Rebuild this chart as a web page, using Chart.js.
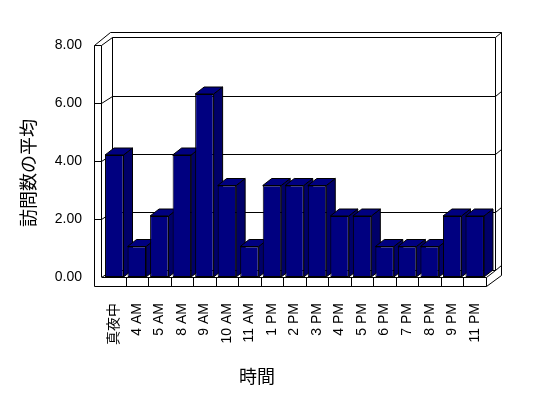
<!DOCTYPE html>
<html>
<head>
<meta charset="utf-8">
<style>
  html, body { margin: 0; padding: 0; background: #ffffff; }
  #wrap { width: 548px; height: 398px; }
</style>
<script src="https://cdn.jsdelivr.net/npm/chart.js@4/dist/chart.umd.min.js"></script>
</head>
<body>
<div id="wrap"><canvas id="c" width="548" height="398"></canvas></div>
<script>
const categories = ['真夜中', '4 AM', '5 AM', '8 AM', '9 AM', '10 AM', '11 AM', '1 PM', '2 PM', '3 PM', '4 PM', '5 PM', '6 PM', '7 PM', '8 PM', '9 PM', '11 PM'];
const averageVisits = [4, 1, 2, 4, 6, 3, 1, 3, 3, 3, 2, 2, 1, 1, 1, 2, 2];
const yTicks = [0, 2, 4, 6, 8];
const xTitle = '時間';
const yTitle = '訪問数の平均';

const FONT = "'Liberation Sans', 'Noto Sans CJK JP', sans-serif";
const CJK = "'Noto Sans CJK JP', sans-serif";
const DX = 9, DY = -7;

function line(ctx, x1, y1, x2, y2) {
  ctx.beginPath();
  ctx.moveTo(Math.round(x1) + 0.5, Math.round(y1) + 0.5);
  ctx.lineTo(Math.round(x2) + 0.5, Math.round(y2) + 0.5);
  ctx.stroke();
}

const frame3d = {
  id: 'frame3d',
  beforeDatasetsDraw(chart) {
    const ctx = chart.ctx;
    const ca = chart.chartArea;
    const yA = chart.scales.y2;
    const xS = chart.scales.x;
    const yF = v => yA.getPixelForValue(v);
    const L = ca.left, R = ca.right, B = ca.bottom;
    const xo = L - 9, xi = L - 2, xb = L + 9;
    const top = yF(yTicks[yTicks.length - 1]);
    const backIn = top - 8, backOut = top - 13;
    const xr = R + 9, xro = R + 15;
    const floorBot = B + 9;
    ctx.save();
    ctx.strokeStyle = '#000000';
    ctx.lineWidth = 1;
    // left wall
    line(ctx, xo, top, xo, floorBot);
    line(ctx, xi, top, xi, B);
    line(ctx, xo, top, xi, top);
    line(ctx, xo, top, xo + 16, backOut);
    line(ctx, xi, top, xb, backIn);
    // back wall
    line(ctx, xo + 16, backOut, xro, backOut);
    line(ctx, xb, backIn, xr, backIn);
    line(ctx, xb, backIn, xb, B - 7);
    line(ctx, xr, backIn, xr, B - 7);
    line(ctx, xro, backOut, xro, B - 2);
    line(ctx, xr, backIn, xro, backOut);
    // gridlines
    yTicks.slice(0, -1).forEach(v => {
      const y = yF(v);
      line(ctx, xo, y, xi, y);
      line(ctx, xi, y, xb, y - 7);
      line(ctx, xb, y - 7, xr, y - 7);
      line(ctx, xr, y - 7, xro, y - 12);
    });
    // floor
    ctx.fillStyle = '#ffffff';
    ctx.fillRect(xo + 1, B, R - xo - 1, floorBot - B);
    line(ctx, xi, B, R, B);
    line(ctx, xo, floorBot, R, floorBot);
    line(ctx, R, B, R, floorBot);
    line(ctx, R, floorBot, xro, B - 2);
    line(ctx, R, B, xr, B - 7);
    for (let i = 0; i < categories.length - 1; i++) {
      const xm = (xS.getPixelForValue(i) + xS.getPixelForValue(i + 1)) / 2;
      line(ctx, xm, B, xm, floorBot);
    }
    // bar depth faces
    const meta = chart.getDatasetMeta(0);
    meta.data.forEach(bar => {
      const p = bar.getProps(['x', 'y', 'width', 'base'], true);
      const l = p.x - p.width / 2, r = p.x + p.width / 2, t = p.y, b = p.base;
      ctx.fillStyle = '#000068';
      ctx.beginPath();
      ctx.moveTo(r, t); ctx.lineTo(r + DX, t + DY); ctx.lineTo(r + DX, b + DY); ctx.lineTo(r, b);
      ctx.closePath(); ctx.fill(); ctx.stroke();
      ctx.fillStyle = '#000080';
      ctx.beginPath();
      ctx.moveTo(l, t); ctx.lineTo(l + DX, t + DY); ctx.lineTo(r + DX, t + DY); ctx.lineTo(r, t);
      ctx.closePath(); ctx.fill(); ctx.stroke();
    });
    ctx.restore();
  },
  afterDraw(chart) {
    const ctx = chart.ctx;
    ctx.save();
    ctx.fillStyle = '#000000';
    ctx.font = '18px ' + CJK;
    ctx.textAlign = 'center';
    ctx.textBaseline = 'middle';
    ctx.fillText(xTitle, 257, 376);
    ctx.translate(28, 173);
    ctx.rotate(-Math.PI / 2);
    ctx.fillText(yTitle, 0, 0);
    ctx.restore();
  }
};

new Chart(document.getElementById('c'), {
  type: 'bar',
  data: {
    labels: categories,
    datasets: [{
      data: averageVisits,
      yAxisID: 'y',
      backgroundColor: '#000080',
      borderColor: '#000000',
      borderWidth: 1,
      borderSkipped: false,
      barPercentage: 0.82,
      categoryPercentage: 1
    }]
  },
  options: {
    responsive: false,
    animation: false,
    events: [],
    layout: { padding: { left: 0, top: 33, right: 62, bottom: 0 } },
    plugins: { legend: { display: false }, tooltip: { enabled: false } },
    scales: {
      x: {
        grid: { display: false, drawTicks: false },
        border: { display: false },
        ticks: {
          color: '#000000', font: { family: FONT, size: 14 },
          maxRotation: 90, minRotation: 90, padding: 26, autoSkip: false
        },
        afterFit(s) { s.height = 121; }
      },
      y: {
        display: false, min: 0, max: 8
      },
      y2: {
        position: 'left', min: 0, max: 8.414,
        grid: { display: false, drawTicks: false },
        border: { display: false },
        ticks: {
          color: '#000000', font: { family: FONT, size: 14 }, padding: 21,
          callback: v => Number(v).toFixed(2)
        },
        afterBuildTicks(s) { s.ticks = yTicks.map(v => ({ value: v })); },
        afterFit(s) { s.width = 103; }
      }
    }
  },
  plugins: [frame3d]
});
</script>
</body>
</html>
